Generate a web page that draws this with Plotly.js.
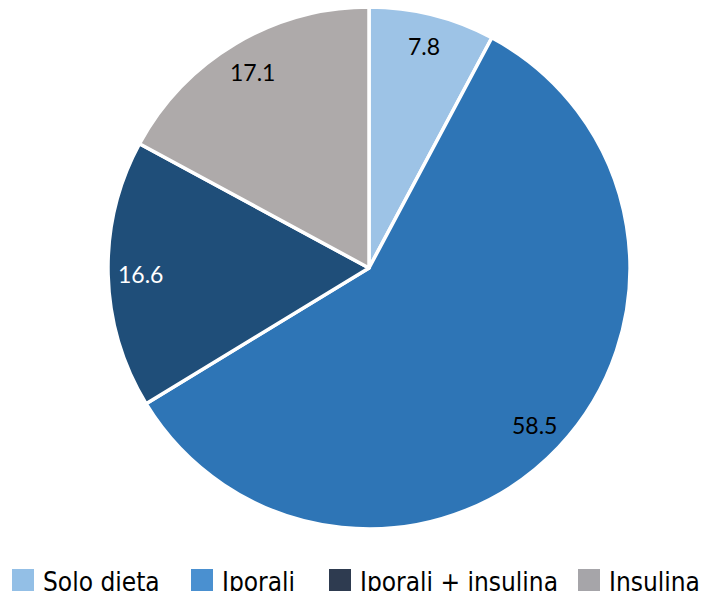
<!DOCTYPE html>
<html><head><meta charset="utf-8">
<script src="https://cdn.plot.ly/plotly-3.0.1.min.js"></script>
<style>html,body{margin:0;padding:0;background:#fff;}#chart{width:706px;height:591px;}</style>
</head><body><div id="chart"></div>
<script>
const categories = ["Solo dieta", "Iporali", "Iporali + insulina", "Insulina"];
const values = [7.8, 58.5, 16.6, 17.1];
const sliceColors = ["#9dc3e6", "#2e75b6", "#1f4e79", "#aeaaaa"];
const legendColors = ["#93bfe6", "#4a90d0", "#2e3b50", "#a6a5a9"];
const labelColors = ["#000000", "#000000", "#ffffff", "#000000"];

const W = 706, H = 591;
const m = {l: 108, r: 76, t: 7, b: 62};
const pw = W - m.l - m.r, ph = H - m.t - m.b;
const px2x = px => (px - m.l) / pw;
const py2y = py => (H - m.b - py) / ph;

const annotations = [];
const total = values.reduce((a, b) => a + b, 0);
const cx = m.l + pw / 2, cy = m.t + ph / 2, R = Math.min(pw, ph) / 2;
let cum = 0;
values.forEach((v, i) => {
  const mid = (cum + v / 2) / total * 2 * Math.PI;
  cum += v;
  const r = 0.875 * R;
  annotations.push({
    x: px2x(cx + r * Math.sin(mid)), y: py2y(cy - r * Math.cos(mid)),
    xref: "paper", yref: "paper", showarrow: false,
    text: v.toFixed(1), xanchor: "center", yanchor: "middle",
    font: {family: "Lato, 'Open Sans', sans-serif", size: 23, color: labelColors[i]}
  });
});

const legendX = [12, 191, 329, 578];
const shapes = [];
const legendY = 580;
categories.forEach((c, i) => {
  shapes.push({type: "rect", xref: "paper", yref: "paper",
    x0: px2x(legendX[i]), x1: px2x(legendX[i] + 22),
    y0: py2y(legendY - 11), y1: py2y(legendY + 11),
    fillcolor: legendColors[i], line: {width: 0}});
  annotations.push({
    x: px2x(legendX[i] + 29), y: py2y(legendY + 2), xref: "paper", yref: "paper",
    showarrow: false, text: c, xanchor: "left", yanchor: "middle",
    font: {family: "'Liberation Sans Narrow', 'DejaVu Sans Condensed', sans-serif", size: 26, color: "#000"}
  });
});

const data = [{
  type: "pie", labels: categories, values: values, sort: false,
  direction: "clockwise", rotation: 0,
  marker: {colors: sliceColors, line: {color: "#ffffff", width: 3.5}},
  textinfo: "none", hoverinfo: "label+value", showlegend: false
}];
const layout = {
  width: W, height: H, margin: m, showlegend: false,
  paper_bgcolor: "#fff", plot_bgcolor: "#fff",
  annotations: annotations, shapes: shapes
};
Plotly.newPlot("chart", data, layout, {displayModeBar: false, staticPlot: true});
</script></body></html>
